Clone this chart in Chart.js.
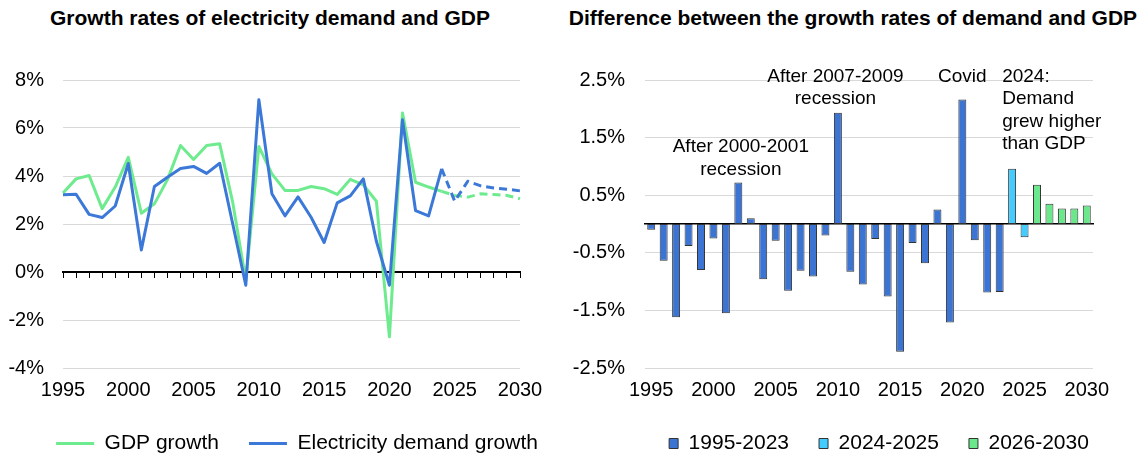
<!DOCTYPE html>
<html>
<head>
<meta charset="utf-8">
<script src="https://cdn.jsdelivr.net/npm/chart.js@4.4.1/dist/chart.umd.min.js"></script>
<style>
    html, body { margin: 0; padding: 0; background: #fff; overflow: hidden; }
    body { width: 1146px; height: 459px; position: relative; font-family: "Liberation Sans", Arial, sans-serif; }
    .titulo { position: absolute; top: 6px; font-weight: bold; font-size: 21px; line-height: 24px; text-align: center; color: #000; white-space: nowrap; }
    #titulo-izq { left: 0; width: 540px; }
    #titulo-der { left: 553px; width: 600px; }
    canvas { position: absolute; top: 0; }
    #chart-izq { left: 0; }
    #chart-der { left: 570px; }
</style>
</head>
<body>
<div class="titulo" id="titulo-izq">Growth rates of electricity demand and GDP</div>
<div class="titulo" id="titulo-der">Difference between the growth rates of demand and GDP</div>
<canvas id="chart-izq" width="594" height="464"></canvas>
<canvas id="chart-der" width="618" height="464"></canvas>
<script>
// Datos
const years = [1995, 1996, 1997, 1998, 1999, 2000, 2001, 2002, 2003, 2004,
               2005, 2006, 2007, 2008, 2009, 2010, 2011, 2012, 2013, 2014,
               2015, 2016, 2017, 2018, 2019, 2020, 2021, 2022, 2023, 2024,
               2025, 2026, 2027, 2028, 2029, 2030];
const xTickYears = [1995, 2000, 2005, 2010, 2015, 2020, 2025, 2030];

const gdpGrowth = [3.29, 3.88, 4.02, 2.64, 3.54, 4.78, 2.45, 2.84, 3.85, 5.27,
                   4.69, 5.27, 5.34, 2.90, -0.35, 5.23, 4.09, 3.40, 3.40, 3.56,
                   3.47, 3.23, 3.86, 3.63, 2.95, -2.70, 6.63, 3.74, 3.54, 3.36,
                   3.19, 3.12, 3.26, 3.23, 3.19, 3.05];
const demandGrowth = [3.22, 3.24, 2.40, 2.27, 2.75, 4.52, 0.92, 3.56, 3.95, 4.31,
                      4.40, 4.11, 4.53, 2.00, -0.55, 7.18, 3.26, 2.34, 3.13, 2.28,
                      1.23, 2.88, 3.17, 3.88, 1.28, -0.55, 6.34, 2.56, 2.34, 4.30,
                      2.95, 3.78, 3.59, 3.50, 3.45, 3.38];
const growthDiff = [-0.10, -0.64, -1.62, -0.38, -0.80, -0.25, -1.55, 0.72, 0.10, -0.96,
                    -0.29, -1.16, -0.81, -0.91, -0.20, 1.93, -0.83, -1.05, -0.26, -1.26,
                    -2.22, -0.33, -0.68, 0.25, -1.71, 2.16, -0.28, -1.19, -1.18, 0.96,
                    -0.23, 0.68, 0.35, 0.27, 0.27, 0.32];

const periodLabels = ['1995-2023', '2024-2025', '2026-2030'];
const periodStart = [1995, 2024, 2026];
const periodEnd = [2023, 2025, 2030];
const forecastFrom = 2024;

const verde = '#6EEB8E';
const azul = '#3B78D8';
const periodColors = ['#3B74D2', '#45CCFF', '#6CE88C'];
const gris = '#D9D9D9';

Chart.defaults.font.family = '"Liberation Sans", Arial, sans-serif';
Chart.defaults.font.size = 20;
Chart.defaults.color = '#000';

const fuente = { size: 20 };
const fuenteLeyenda = { size: 21 };
const etiquetaX = (v, i) => xTickYears.includes(years[i]) ? String(years[i]) : '';
const iForecast = years.indexOf(forecastFrom);

// Eje vacío a la derecha para dejar sitio y centrar la leyenda
const ejeRelleno = w => ({
    type: 'linear', position: 'right', display: true,
    grid: { display: false }, border: { display: false },
    ticks: { display: false },
    afterFit: s => { s.width = w; }
});

// Gráfico de líneas
new Chart(document.getElementById('chart-izq'), {
    type: 'line',
    data: {
        labels: years,
        datasets: [
            {
                label: 'GDP growth', data: gdpGrowth, order: 1,
                borderColor: verde, backgroundColor: verde, borderWidth: 3,
                pointRadius: 0, tension: 0, borderJoinStyle: 'round',
                segment: { borderDash: c => c.p0DataIndex >= iForecast ? [8, 5] : undefined }
            },
            {
                label: 'Electricity demand growth', data: demandGrowth, order: 0,
                borderColor: azul, backgroundColor: azul, borderWidth: 3,
                pointRadius: 0, tension: 0, borderJoinStyle: 'round',
                segment: { borderDash: c => c.p0DataIndex >= iForecast ? [8, 5] : undefined }
            }
        ]
    },
    options: {
        responsive: false,
        animation: false,
        layout: { padding: { top: 80, left: 0, right: 0, bottom: 0 } },
        plugins: {
            tooltip: { enabled: false },
            legend: {
                position: 'bottom',
                labels: {
                    font: fuenteLeyenda, boxWidth: 38, boxHeight: 3, padding: 30,
                    generateLabels: chart => chart.data.datasets.map((ds, i) => ({
                        text: ds.label, fillStyle: ds.borderColor, strokeStyle: ds.borderColor,
                        lineWidth: 0, datasetIndex: i, hidden: false
                    }))
                }
            }
        },
        scales: {
            x: {
                grid: { display: false, drawTicks: false }, border: { display: false },
                ticks: { autoSkip: false, maxRotation: 0, padding: 10, font: fuente, callback: etiquetaX },
                afterFit: s => { s.height = 35; }
            },
            xCero: {
                type: 'category', axis: 'x', position: { y: 0 },
                grid: { display: true, drawOnChartArea: false, drawTicks: true, tickLength: 5, color: '#000', lineWidth: 1 },
                border: { display: true, color: '#000', width: 2 },
                ticks: { display: false }
            },
            y: {
                min: -4, max: 8,
                grid: { color: gris, lineWidth: 1, drawTicks: false }, border: { display: false },
                ticks: { stepSize: 2, padding: 19, font: fuente, callback: v => v + '%' },
                afterFit: s => { s.width = 63; }
            },
            yRelleno: ejeRelleno(74)
        }
    }
});

// Notas del gráfico de barras: año (posición en el eje), valor de la primera línea
const notas = [
    { lineas: ['After 2000-2001', 'recession'], anio: 2002.2, valor: 1.34, alinear: 'center' },
    { lineas: ['After 2007-2009', 'recession'], anio: 2009.8, valor: 2.56, alinear: 'center' },
    { lineas: ['Covid'], anio: 2020.0, valor: 2.56, alinear: 'center' },
    { lineas: ['2024:', 'Demand', 'grew higher', 'than GDP'], anio: 2023.2, valor: 2.56, alinear: 'left' }
];

const pluginNotas = {
    id: 'notas',
    afterDatasetsDraw(chart) {
        const { ctx, scales: { x, y } } = chart;
        ctx.save();
        ctx.font = '19px "Liberation Sans", Arial, sans-serif';
        ctx.fillStyle = '#000';
        ctx.textBaseline = 'middle';
        notas.forEach(n => {
            const px = x.getPixelForValue(n.anio - years[0]);
            const py = y.getPixelForValue(n.valor);
            ctx.textAlign = n.alinear;
            n.lineas.forEach((t, k) => ctx.fillText(t, px, py + k * 22.5));
        });
        ctx.restore();
    }
};

// Gráfico de barras
new Chart(document.getElementById('chart-der'), {
    type: 'bar',
    data: {
        labels: years,
        datasets: periodLabels.map((p, k) => ({
            label: p,
            data: growthDiff.map((v, i) => years[i] >= periodStart[k] && years[i] <= periodEnd[k] ? v : null),
            backgroundColor: periodColors[k],
            borderColor: '#333333',
            borderWidth: 1,
            borderSkipped: false,
            barPercentage: 0.64,
            categoryPercentage: 1,
            grouped: false
        }))
    },
    options: {
        responsive: false,
        animation: false,
        layout: { padding: { top: 80, left: 0, right: 0, bottom: 0 } },
        plugins: {
            tooltip: { enabled: false },
            legend: {
                position: 'bottom',
                labels: { font: fuenteLeyenda, boxWidth: 9, boxHeight: 10, padding: 30 }
            }
        },
        scales: {
            x: {
                grid: { display: false, drawTicks: false }, border: { display: false },
                ticks: { autoSkip: false, maxRotation: 0, padding: 10, font: fuente, callback: etiquetaX },
                afterFit: s => { s.height = 35; }
            },
            xCero: {
                type: 'category', axis: 'x', position: { y: 0 },
                grid: { display: false, drawTicks: false },
                border: { display: true, color: '#000', width: 1.5 },
                ticks: { display: false }
            },
            y: {
                min: -2.5, max: 2.5,
                grid: { color: gris, lineWidth: 1, drawTicks: false }, border: { display: false },
                ticks: { stepSize: 1, padding: 20, font: fuente, callback: v => v.toFixed(1) + '%' },
                afterFit: s => { s.width = 75; }
            },
            yRelleno: ejeRelleno(95)
        }
    },
    plugins: [pluginNotas]
});
</script>
</body>
</html>
